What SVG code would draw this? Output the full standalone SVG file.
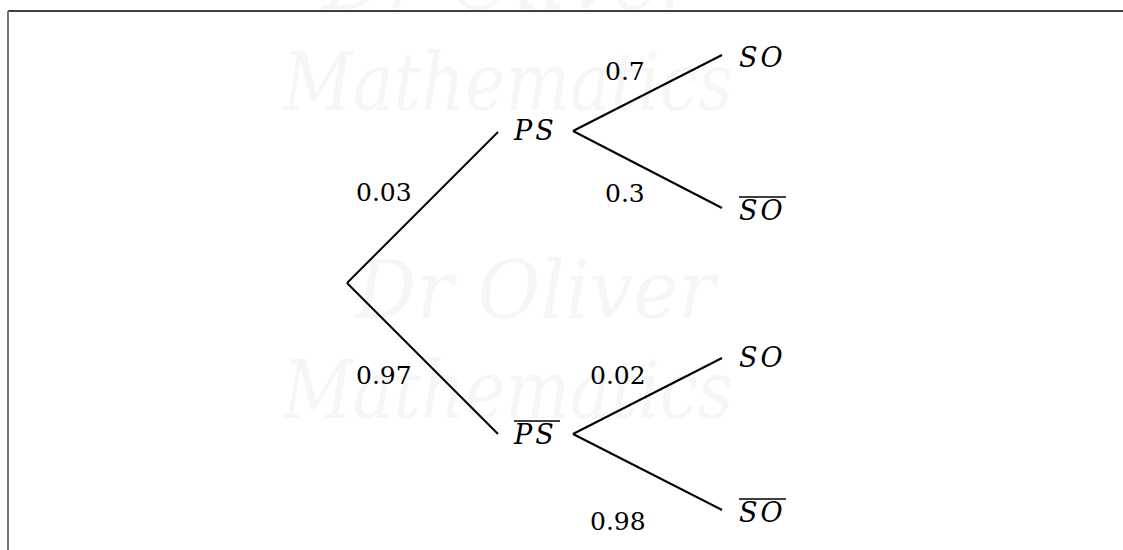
<svg xmlns="http://www.w3.org/2000/svg" width="1123" height="550" viewBox="0 0 1123 550">
<style>
.wm{font-family:"DejaVu Serif",serif;font-style:italic;font-size:80px;fill:#f6f6f6}
.lbl{font-family:"DejaVu Serif",serif;font-size:25px;fill:#000}
.var{font-style:italic;font-size:27px;letter-spacing:3px}
.edge{stroke:#000;stroke-width:2;fill:none}
.bar{stroke:#000;stroke-width:1.3}
</style>
<rect width="1123" height="550" fill="#fff"/>
<g id="watermark">
<text class="wm" x="510" y="9" text-anchor="middle">Dr Oliver</text>
<text class="wm" x="508" y="110" text-anchor="middle" textLength="450" lengthAdjust="spacingAndGlyphs">Mathematics</text>
<text class="wm" x="535" y="318" text-anchor="middle" textLength="360" lengthAdjust="spacingAndGlyphs">Dr Oliver</text>
<text class="wm" x="508" y="418" text-anchor="middle" textLength="450" lengthAdjust="spacingAndGlyphs">Mathematics</text>
</g>
<g id="frame">
<line x1="8" y1="11" x2="1123" y2="11" stroke="#000" stroke-width="1.5"/>
<line x1="8" y1="11" x2="8" y2="550" stroke="#777" stroke-width="2"/>
</g>
<g id="connectors">
<line class="edge" x1="347" y1="283" x2="498" y2="132"/>
<line class="edge" x1="347" y1="283" x2="498" y2="434"/>
<line class="edge" x1="573" y1="131" x2="722" y2="55"/>
<line class="edge" x1="573" y1="131" x2="722" y2="208"/>
<line class="edge" x1="573" y1="434" x2="722" y2="358"/>
<line class="edge" x1="573" y1="434" x2="722" y2="510"/>
<text class="lbl" x="356" y="201">0.03</text>
<text class="lbl" x="356" y="384">0.97</text>
<text class="lbl" x="605" y="80">0.7</text>
<text class="lbl" x="605" y="202">0.3</text>
<text class="lbl" x="590" y="384">0.02</text>
<text class="lbl" x="590" y="530">0.98</text>
</g>
<g id="node-PS">
<text class="lbl var" x="514" y="140">PS</text>
</g>
<g id="node-PSbar">
<line class="bar" x1="514" y1="421" x2="560" y2="421"/>
<text class="lbl var" x="514" y="444">PS</text>
</g>
<g id="node-SO1">
<text class="lbl var" x="739" y="67">SO</text>
</g>
<g id="node-SObar1">
<line class="bar" x1="739" y1="197" x2="786" y2="197"/>
<text class="lbl var" x="739" y="220">SO</text>
</g>
<g id="node-SO2">
<text class="lbl var" x="739" y="367">SO</text>
</g>
<g id="node-SObar2">
<line class="bar" x1="739" y1="499" x2="786" y2="499"/>
<text class="lbl var" x="739" y="522">SO</text>
</g>
</svg>
